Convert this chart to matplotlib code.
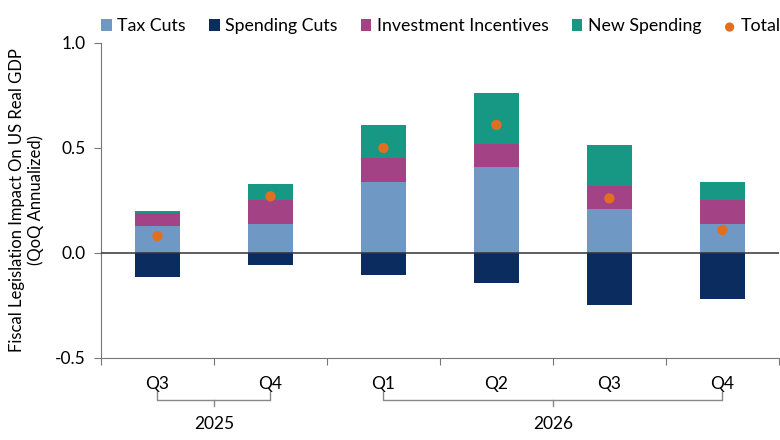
import matplotlib
matplotlib.use('Agg')
import matplotlib.pyplot as plt
import matplotlib.transforms as mtransforms
import numpy as np

plt.rcParams['font.family'] = ['Lato', 'DejaVu Sans']

quarters = ['Q3', 'Q4', 'Q1', 'Q2', 'Q3', 'Q4']
years = ['2025', '2026']
year_spans = [(0, 1), (2, 5)]

tax_cuts = [0.13, 0.14, 0.34, 0.41, 0.21, 0.14]
spending_cuts = [-0.115, -0.055, -0.105, -0.145, -0.25, -0.22]
investment = [0.06, 0.11, 0.11, 0.11, 0.11, 0.11]
new_spending = [0.01, 0.08, 0.16, 0.24, 0.195, 0.09]
total = [0.08, 0.27, 0.50, 0.61, 0.26, 0.11]

c_tax = '#7098C4'
c_spend = '#0A2C5E'
c_inv = '#A34386'
c_new = '#169884'
c_total = '#E07020'

fig = plt.figure(figsize=(7.8, 4.4), dpi=100)
ax = fig.add_axes([0.1295, 0.1864, 0.869, 0.7159])

x = np.arange(len(quarters))
w = 0.4
tax = np.array(tax_cuts)
inv = np.array(investment)
new = np.array(new_spending)

h1 = ax.bar(x, tax, w, color=c_tax, label='Tax Cuts')
h2 = ax.bar(x, spending_cuts, w, color=c_spend, label='Spending Cuts')
h3 = ax.bar(x, inv, w, bottom=tax, color=c_inv, label='Investment Incentives')
h4 = ax.bar(x, new, w, bottom=tax + inv, color=c_new, label='New Spending')
h5 = ax.scatter(x, total, s=55, color=c_total, zorder=5, label='Total', edgecolors='none')

ax.axhline(0, color='#333333', linewidth=1.1, zorder=4)

ax.set_xlim(-0.5, len(quarters) - 0.5)
ax.set_ylim(-0.5, 1.0)
ax.set_yticks([-0.5, 0.0, 0.5, 1.0])
ax.set_yticklabels(['-0.5', '0.0', '0.5', '1.0'], fontsize=12.5)
ax.set_xticks(np.arange(len(quarters) + 1) - 0.5)
ax.set_xticklabels([])
ax.set_xticks(x, minor=True)
ax.set_xticklabels(quarters, minor=True, fontsize=12.5)
ax.tick_params(axis='x', which='minor', length=0, pad=13)
ax.tick_params(axis='x', which='major', length=5, color='#777777')
ax.tick_params(axis='y', length=5, color='#777777', pad=6)

for s in ['top', 'right']:
    ax.spines[s].set_visible(False)
ax.spines['left'].set_color('#777777')
ax.spines['bottom'].set_color('#777777')

ax.set_ylabel('Fiscal Legislation Impact On US Real GDP\n(QoQ Annualized)', fontsize=12, labelpad=8)

# year brackets below the quarter labels
trans = mtransforms.blended_transform_factory(ax.transData, ax.transAxes)
yb = -0.133
for yr, (a, b) in zip(years, year_spans):
    ax.plot([a, a, b, b], [yb + 0.025, yb, yb, yb + 0.025], color='#888888',
            linewidth=1, transform=trans, clip_on=False)
    mid = (a + b) / 2
    ax.plot([mid, mid], [yb, yb - 0.02], color='#888888', linewidth=1,
            transform=trans, clip_on=False)
    ax.text(mid, yb - 0.05, yr, transform=trans, ha='center', va='top', fontsize=12.5)

ax.legend(handles=[h1, h2, h3, h4, h5], loc='lower left', bbox_to_anchor=(-0.01, 1.005),
          ncol=5, frameon=False, fontsize=12.8, handlelength=0.6, handleheight=0.6,
          handletextpad=0.3, columnspacing=1.3, borderaxespad=0, markerscale=0.9)

fig.savefig('out.png', dpi=100)
